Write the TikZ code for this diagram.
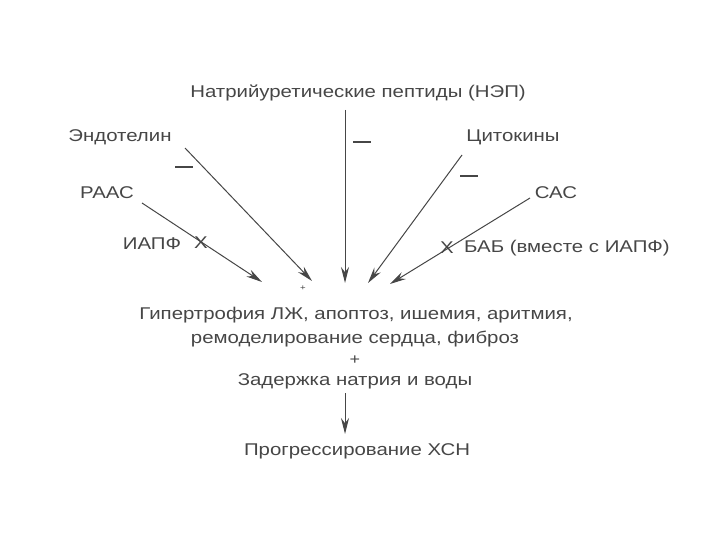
\documentclass[tikz,border=0pt]{standalone}
\usepackage{fontspec}
\setmainfont{Liberation Sans}[FakeStretch=1.2]
\usetikzlibrary{arrows.meta}
\definecolor{ink}{HTML}{464646}
\tikzset{
  lbl/.style={text=ink, font=\fontsize{17}{20}\selectfont, inner sep=0pt, anchor=center},
  arr/.style={draw=ink, line width=1pt, -{Stealth[length=16pt,width=8pt]}},
  bar/.style={draw=ink, line width=1.3pt}
}
\begin{document}
\begin{tikzpicture}[x=1pt,y=-1pt]
\useasboundingbox (0,0) rectangle (720,540);
% sources
\node[lbl] (nep) at (358,93) {Натрийуретические пептиды (НЭП)};
\node[lbl] (end) at (120,137) {Эндотелин};
\node[lbl] (raas) at (107,193) {РААС};
\node[lbl] (iapf) at (152,244) {ИАПФ};
\node[lbl] (x1) at (201,243) {Х};
\node[lbl] (cyt) at (513,137) {Цитокины};
\node[lbl] (sas) at (556,193) {САС};
\node[lbl] (bab) at (567,248) {БАБ (вместе с ИАПФ)};
\node[lbl] (x2) at (447,248) {Х};
% targets
\coordinate (tn) at (345,283);
\coordinate (te) at (312,281);
\coordinate (tr) at (262,282);
\coordinate (tc) at (368,283);
\coordinate (ts) at (390,284);
\coordinate (sn) at (345,110);
\coordinate (se) at (185,148);
\coordinate (sr) at (142,203);
\coordinate (sc) at (462,155);
\coordinate (ss) at (530,198);
\draw[arr] (sn) -- (tn);
\draw[arr] (se) -- (te);
\draw[arr] (sr) -- (tr);
\draw[arr] (sc) -- (tc);
\draw[arr] (ss) -- (ts);
% minus marks
\coordinate (m1a) at (353,142); \coordinate (m1b) at (371,142);
\coordinate (m2a) at (175,167); \coordinate (m2b) at (193,167);
\coordinate (m3a) at (460,176); \coordinate (m3b) at (478,176);
\draw[bar] (m1a) -- (m1b);
\draw[bar] (m2a) -- (m2b);
\draw[bar] (m3a) -- (m3b);
\node[lbl, font=\fontsize{8}{9}\selectfont] (p1) at (303,288) {+};
% effects
\node[lbl] (eff1) at (356,315) {Гипертрофия ЛЖ, апоптоз, ишемия, аритмия,};
\node[lbl] (eff2) at (355,339) {ремоделирование сердца, фиброз};
\node[lbl, font=\fontsize{15}{17}\selectfont] (plus) at (355,360) {+};
\node[lbl] (zad) at (355,381) {Задержка натрия и воды};
\node[lbl] (prog) at (357,451) {Прогрессирование ХСН};
\coordinate (za) at (345,393);
\coordinate (zb) at (345,434);
\draw[arr] (za) -- (zb);
\end{tikzpicture}
\end{document}
